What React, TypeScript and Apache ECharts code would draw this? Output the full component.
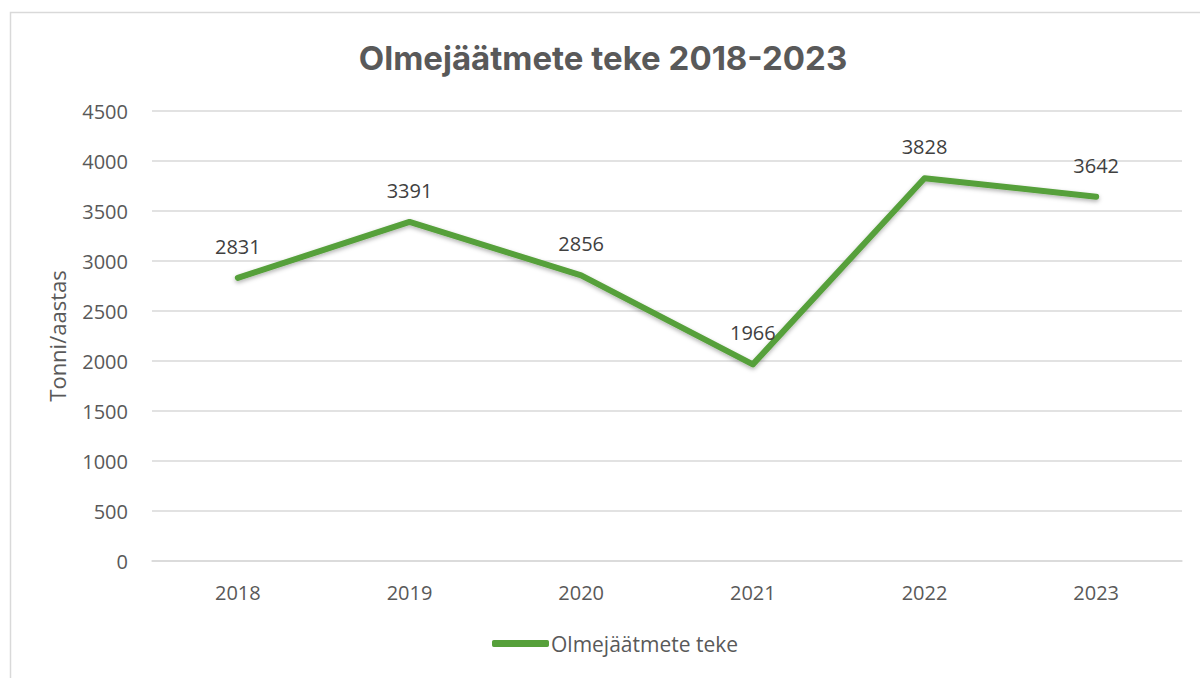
import React, { useEffect, useRef } from "react";
import * as echarts from "echarts";

const categories = ["2018", "2019", "2020", "2021", "2022", "2023"];
const values = [2831, 3391, 2856, 1966, 3828, 3642];
const seriesName = "Olmejäätmete teke";
const titleText = "Olmejäätmete teke 2018-2023";
const yAxisName = "Tonni/aastas";

const FONT = "'Open Sans', 'Noto Sans', sans-serif";
const GREEN = "#56a03a";

export default function App() {
  const ref = useRef<HTMLDivElement>(null);
  useEffect(() => {
    if (!ref.current) return;
    const chart = echarts.init(ref.current, null, { renderer: "svg" });
    chart.setOption({
      animation: false,
      backgroundColor: "#ffffff",
      title: {
        text: titleText,
        left: 598,
        top: 36,
        textAlign: "center",
        textStyle: { fontFamily: "Inter, 'Open Sans', sans-serif", fontSize: 33, fontWeight: "bold", color: "#595959" },
      },
      graphic: [
        {
          type: "rect",
          shape: { x: 10.5, y: 12.5, width: 1200, height: 700 },
          style: { fill: "none", stroke: "#d9d9d9", lineWidth: 1.5 },
          silent: true,
          z: -1,
        },
      ],
      grid: { left: 152, right: 18, top: 111, bottom: 117, containLabel: false },
      legend: {
        data: [{ name: seriesName, icon: "roundRect", itemStyle: { color: GREEN } }],
        bottom: 19,
        left: 487,
        itemWidth: 57,
        itemHeight: 7,
        textStyle: { fontFamily: FONT, fontSize: 21, color: "#595959", padding: [0, 0, 0, -3] },
      },
      xAxis: {
        type: "category",
        data: categories,
        boundaryGap: true,
        axisLine: { show: true, lineStyle: { color: "#d9d9d9", width: 1.5 } },
        axisTick: { show: false },
        axisLabel: { margin: 21, fontFamily: FONT, fontSize: 20, color: "#595959" },
      },
      yAxis: {
        type: "value",
        min: 0,
        max: 4500,
        interval: 500,
        name: yAxisName,
        nameLocation: "middle",
        nameGap: 84,
        nameTextStyle: { fontFamily: FONT, fontSize: 22, color: "#595959" },
        axisLine: { show: false },
        axisTick: { show: false },
        axisLabel: { margin: 24, fontFamily: FONT, fontSize: 20, color: "#595959", formatter: (v: number) => String(v) },
        splitLine: { lineStyle: { color: "#d9d9d9", width: 1.5 } },
      },
      series: [
        {
          name: seriesName,
          type: "line",
          data: values,
          symbol: "circle",
          symbolSize: 1,
          showSymbol: true,
          lineStyle: {
            color: GREEN,
            width: 6,
            cap: "round",
            join: "round",
            shadowColor: "rgba(0,0,0,0.3)",
            shadowBlur: 4,
            shadowOffsetY: 2,
          },
          itemStyle: { color: "rgba(0,0,0,0)" },
          label: {
            show: true,
            position: "top",
            distance: 21,
            fontFamily: FONT,
            fontSize: 20,
            color: "#404040",
          },
        },
      ],
    });
    return () => chart.dispose();
  }, []);
  return (
    <div
      ref={ref}
      style={{ position: "absolute", left: 0, top: 0, width: 1200, height: 678 }}
    />
  );
}
